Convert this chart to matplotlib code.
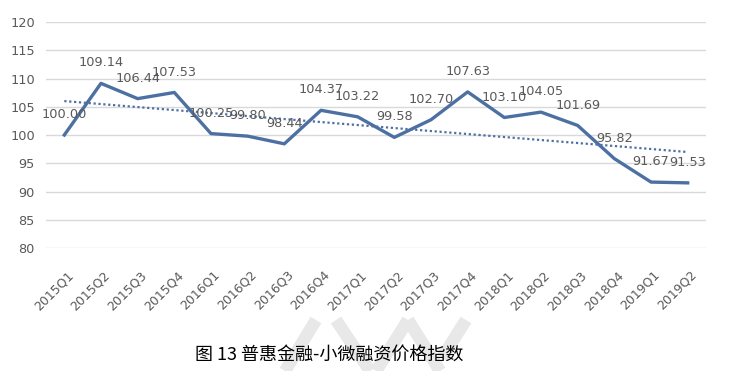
import matplotlib.pyplot as plt
import matplotlib.transforms as mtransforms
from matplotlib.lines import Line2D
import numpy as np

plt.rcParams['font.family'] = ['Noto Sans CJK SC', 'DejaVu Sans']

# quarters and index values
quarters = ["2015Q1", "2015Q2", "2015Q3", "2015Q4", "2016Q1", "2016Q2", "2016Q3", "2016Q4",
            "2017Q1", "2017Q2", "2017Q3", "2017Q4", "2018Q1", "2018Q2", "2018Q3", "2018Q4",
            "2019Q1", "2019Q2"]
index_values = [100.00, 109.14, 106.44, 107.53, 100.25, 99.80, 98.44, 104.37,
                103.22, 99.58, 102.70, 107.63, 103.10, 104.05, 101.69, 95.82,
                91.67, 91.53]
y_ticks = [80, 85, 90, 95, 100, 105, 110, 115, 120]
caption = "图 13 普惠金融-小微融资价格指数"

line_color = "#4d70a3"
text_gray = "#595959"

W, H = 732, 371
fig = plt.figure(figsize=(W / 100, H / 100), dpi=100)

# faint watermark strokes behind the caption
wm = [((285, 371), (316, 320)), ((336, 320), (370, 371)), ((376, 371), (408, 320)),
      ((408, 320), (440, 371)), ((442, 358), (466, 320))]
for (x0, y0), (x1, y1) in wm:
    fig.add_artist(Line2D([x0 / W, x1 / W], [1 - y0 / H, 1 - y1 / H], transform=fig.transFigure,
                          color='#e8e8e8', linewidth=9, solid_capstyle='butt', zorder=0))

ax = fig.add_axes([0.0628, 0.3315, 0.9017, 0.6092])
ax.patch.set_alpha(0)

x = np.arange(len(quarters))
ax.plot(x, index_values, color=line_color, linewidth=2.4, solid_joinstyle='round', zorder=3)

# linear trend line
k, b = np.polyfit(x, index_values, 1)
ax.plot(x, k * x + b, color=line_color, linewidth=1.6, linestyle=(0, (1, 1.2)), zorder=2)

for xi, v in zip(x, index_values):
    ax.annotate(f"{v:.2f}", (xi, v), xytext=(0, 10), textcoords='offset points',
                ha='center', va='bottom', fontsize=9.3, color=text_gray, family='DejaVu Sans')

ax.set_xlim(-0.5, len(quarters) - 0.5)
ax.set_ylim(80, 120)
ax.set_yticks(y_ticks)
ax.set_yticklabels([str(t) for t in y_ticks], fontsize=9.3, color=text_gray, family='DejaVu Sans')
ax.set_xticks(x)
ax.set_xticklabels(quarters, rotation=45, ha='right', va='center', rotation_mode='anchor',
                   fontsize=9, color=text_gray, family='DejaVu Sans')
ax.tick_params(axis='y', length=0, pad=8)
ax.tick_params(axis='x', length=0, pad=18)
shift = mtransforms.ScaledTranslation(5 / 72, 0, fig.dpi_scale_trans)
for lab in ax.get_xticklabels():
    lab.set_transform(lab.get_transform() + shift)
ax.grid(axis='y', color='#d9d9d9', linewidth=1)
ax.set_axisbelow(True)
for s in ax.spines.values():
    s.set_visible(False)

fig.text(0.266, 1 - 355 / H, caption, fontsize=13, color='black', ha='left', va='center')

fig.savefig("out.png", dpi=100)
